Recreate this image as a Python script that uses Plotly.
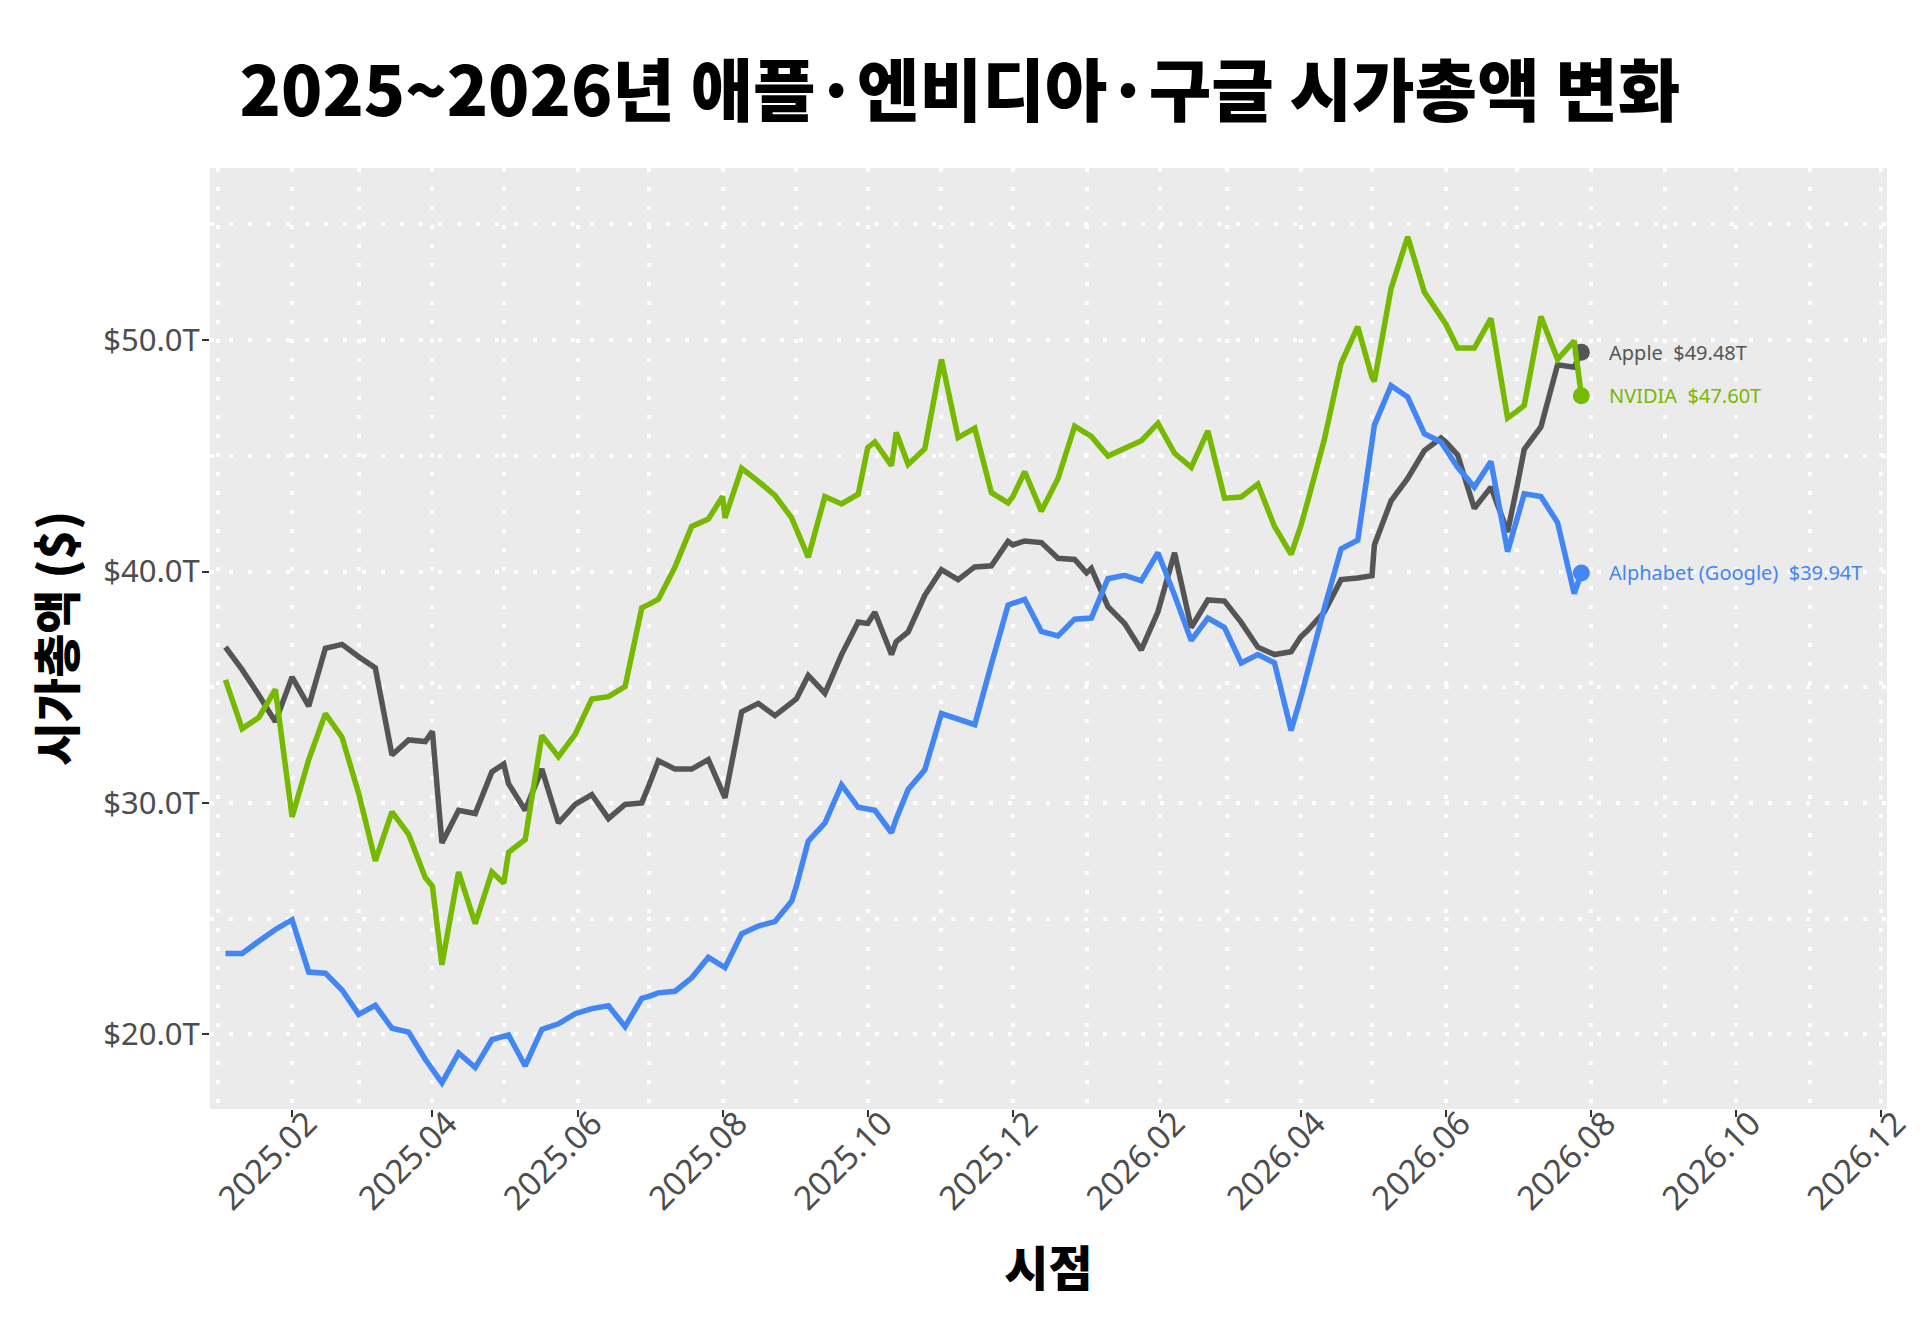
import plotly.graph_objects as go

# 날짜 (주간 + 월초 포인트)
dates = [
    '2025-01-04', '2025-01-11', '2025-01-18', '2025-01-25', '2025-02-01', '2025-02-08', '2025-02-15', '2025-02-22',
    '2025-03-01', '2025-03-08', '2025-03-15', '2025-03-22', '2025-03-29', '2025-04-01', '2025-04-05', '2025-04-12',
    '2025-04-19', '2025-04-26', '2025-05-01', '2025-05-03', '2025-05-10', '2025-05-17', '2025-05-24', '2025-05-31',
    '2025-06-07', '2025-06-14', '2025-06-21', '2025-06-28', '2025-07-01', '2025-07-05', '2025-07-12', '2025-07-19',
    '2025-07-26', '2025-08-01', '2025-08-02', '2025-08-09', '2025-08-16', '2025-08-23', '2025-08-30', '2025-09-01',
    '2025-09-06', '2025-09-13', '2025-09-20', '2025-09-27', '2025-10-01', '2025-10-04', '2025-10-11', '2025-10-13',
    '2025-10-18', '2025-10-25', '2025-11-01', '2025-11-08', '2025-11-15', '2025-11-22', '2025-11-29', '2025-12-01',
    '2025-12-06', '2025-12-13', '2025-12-20', '2025-12-27', '2026-01-01', '2026-01-03', '2026-01-10', '2026-01-17',
    '2026-01-24', '2026-01-31', '2026-02-07', '2026-02-14', '2026-02-21', '2026-02-28', '2026-03-07', '2026-03-14',
    '2026-03-21', '2026-03-28', '2026-04-01', '2026-04-04', '2026-04-11', '2026-04-18', '2026-04-25', '2026-05-01',
    '2026-05-02', '2026-05-09', '2026-05-16', '2026-05-23', '2026-05-30', '2026-06-01', '2026-06-06', '2026-06-13',
    '2026-06-20', '2026-06-27', '2026-07-01', '2026-07-04', '2026-07-11', '2026-07-18', '2026-07-25', '2026-07-28',
]

# 시가총액 (조 달러)
apple = [
    36.73, 35.76, 34.66, 33.50, 35.44, 34.18, 36.68, 36.85,
    36.32, 35.83, 32.07, 32.72, 32.65, 33.09, 28.27, 29.68,
    29.54, 31.34, 31.68, 30.83, 29.68, 31.46, 29.13, 29.93,
    30.36, 29.32, 29.93, 30.00, 30.75, 31.82, 31.46, 31.46,
    31.87, 30.40, 30.22, 33.94, 34.30, 33.77, 34.37, 34.49,
    35.51, 34.74, 36.41, 37.82, 37.75, 38.24, 36.41, 36.97,
    37.39, 38.97, 40.08, 39.65, 40.20, 40.25, 41.30, 41.15,
    41.32, 41.25, 40.57, 40.52, 39.94, 40.13, 38.48, 37.75,
    36.61, 38.26, 40.81, 37.58, 38.77, 38.72, 37.80, 36.73,
    36.41, 36.53, 37.17, 37.46, 38.26, 39.65, 39.72, 39.82,
    41.15, 43.05, 44.02, 45.23, 45.77, 45.60, 45.04, 42.73,
    43.65, 41.71, 43.70, 45.28, 46.25, 48.93, 48.83, 49.48,
]
nvidia = [
    35.32, 33.21, 33.69, 34.91, 29.39, 31.87, 33.86, 32.84,
    30.41, 27.50, 29.61, 28.64, 26.77, 26.40, 23.00, 27.01,
    24.78, 27.01, 26.53, 27.86, 28.42, 32.92, 32.00, 32.96,
    34.49, 34.59, 35.03, 38.43, 38.58, 38.80, 40.20, 41.95,
    42.27, 43.24, 42.32, 44.46, 43.90, 43.29, 42.32, 41.83,
    40.62, 43.24, 42.92, 43.34, 45.35, 45.60, 44.58, 46.01,
    44.63, 45.31, 49.17, 45.79, 46.20, 43.41, 42.97, 43.24,
    44.31, 42.61, 44.02, 46.28, 45.96, 45.84, 44.99, 45.31,
    45.65, 46.40, 45.11, 44.50, 46.08, 43.17, 43.22, 43.78,
    41.95, 40.74, 41.95, 43.05, 45.72, 49.00, 50.58, 48.39,
    48.22, 52.23, 54.47, 52.08, 51.06, 50.70, 49.66, 49.66,
    50.94, 46.64, 46.93, 47.18, 51.02, 49.17, 49.97, 47.60,
]
alphabet = [
    23.49, 23.49, 24.02, 24.53, 24.95, 22.69, 22.64, 21.91,
    20.86, 21.25, 20.26, 20.09, 18.92, 18.51, 17.90, 19.19,
    18.56, 19.77, 19.92, 19.97, 18.63, 20.21, 20.45, 20.89,
    21.11, 21.23, 20.33, 21.55, 21.64, 21.79, 21.86, 22.44,
    23.32, 22.95, 22.88, 24.34, 24.68, 24.87, 25.75, 26.40,
    28.35, 29.13, 30.78, 29.81, 29.73, 29.68, 28.71, 29.32,
    30.58, 31.43, 33.86, 33.64, 33.38, 36.00, 38.55, 38.62,
    38.80, 37.41, 37.22, 37.94, 37.97, 37.99, 39.69, 39.84,
    39.60, 40.81, 38.97, 37.02, 37.99, 37.58, 36.05, 36.41,
    36.05, 33.13, 34.54, 35.76, 38.43, 40.98, 41.35, 45.60,
    46.33, 48.03, 47.54, 45.96, 45.60, 45.28, 44.50, 43.65,
    44.75, 40.86, 42.27, 43.36, 43.24, 42.12, 39.04, 39.94,
]

series_names = ['Apple', 'NVIDIA', 'Alphabet (Google)']
series_colors = ['#555555', '#76B900', '#4285F4']

# 축 눈금
x_tickvals = ['2025-02-01', '2025-04-01', '2025-06-01', '2025-08-01', '2025-10-01', '2025-12-01',
              '2026-02-01', '2026-04-01', '2026-06-01', '2026-08-01', '2026-10-01', '2026-12-01']
x_ticktext = ['2025.02', '2025.04', '2025.06', '2025.08', '2025.10', '2025.12',
              '2026.02', '2026.04', '2026.06', '2026.08', '2026.10', '2026.12']
x_minorvals = ['2025-01-01', '2025-03-01', '2025-05-01', '2025-07-01', '2025-09-01', '2025-11-01',
               '2026-01-01', '2026-03-01', '2026-05-01', '2026-07-01', '2026-09-01', '2026-11-01']
y_tickvals = [20, 30, 40, 50]
y_ticktext = ['$20.0T', '$30.0T', '$40.0T', '$50.0T']
y_minorvals = [25, 35, 45, 55]

fig = go.Figure()

for name, vals, color in zip(series_names, [apple, nvidia, alphabet], series_colors):
    fig.add_trace(go.Scatter(x=dates, y=vals, mode='lines', name=name,
                             line=dict(color=color, width=5.5), showlegend=False))
    # 마지막 값 점 + 라벨
    fig.add_trace(go.Scatter(x=[dates[-1]], y=[vals[-1]], mode='markers',
                             marker=dict(color=color, size=17), showlegend=False))
    fig.add_annotation(x=dates[-1], y=vals[-1], text=f'{name}\u00a0\u00a0${vals[-1]:.2f}T',
                       xanchor='left', yanchor='middle', xshift=26, showarrow=False,
                       font=dict(family='Noto Sans', size=20, color=color))

grid = dict(showgrid=True, gridcolor='white', gridwidth=3.5, griddash='4px,15px')

# 페이지 body 여백(8px) 만큼 당겨서 배치
fig.update_layout(
    width=1920,
    height=1329,
    margin=dict(l=202, r=41, t=160, b=228),
    paper_bgcolor='white',
    plot_bgcolor='#EBEBEB',
    title=dict(text='2025~2026년 애플·엔비디아·구글 시가총액 변화',
               x=952 / 1920, xref='container', xanchor='center',
               y=1 - 84 / 1329, yref='container', yanchor='middle',
               font=dict(family='Noto Sans CJK KR', size=68, color='black', weight=900)),
    xaxis=dict(
        type='date',
        range=['2024-12-28 12:00', '2026-12-03 12:00'],
        tickmode='array', tickvals=x_tickvals, ticktext=x_ticktext, tickangle=-45,
        tickfont=dict(family='Noto Sans', size=33, color='#4D4D4D'),
        ticks='outside', ticklen=7, tickwidth=1.5, tickcolor='#333333',
        ticklabelstandoff=-26, ticklabelshift=15,
        minor=dict(tickvals=x_minorvals, **grid),
        zeroline=False, showline=False,
        title=dict(text='시점', standoff=34,
                   font=dict(family='Noto Sans CJK KR', size=48, color='black', weight=900)),
        **grid,
    ),
    yaxis=dict(
        range=[16.77, 57.44],
        tickmode='array', tickvals=y_tickvals, ticktext=y_ticktext,
        tickfont=dict(family='Noto Sans', size=31, color='#4D4D4D'),
        ticks='outside', ticklen=7, tickwidth=1.5, tickcolor='#333333',
        ticklabelstandoff=-4,
        minor=dict(tickvals=y_minorvals, **grid),
        zeroline=False, showline=False,
        title=dict(text='시가총액 ($)', standoff=12,
                   font=dict(family='Noto Sans CJK KR', size=48, color='black', weight=900)),
        **grid,
    ),
)

fig.write_html('out.html')
